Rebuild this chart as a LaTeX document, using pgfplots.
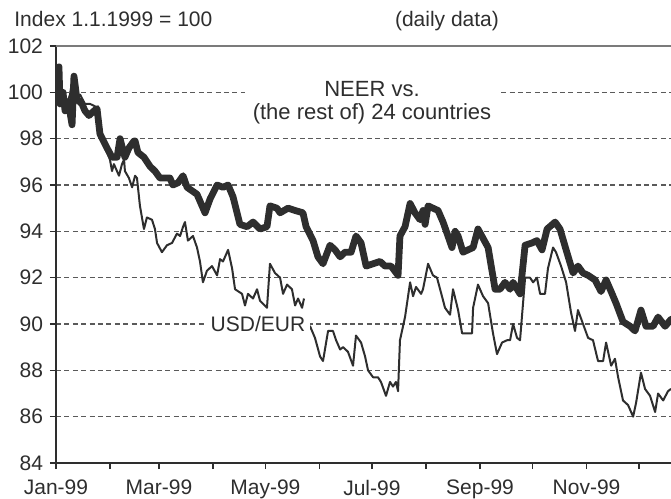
\documentclass[border=0pt]{standalone}
\usepackage{fontspec}
\setmainfont{Liberation Sans}
\usepackage{pgfplots}
\pgfplotsset{compat=1.18}
\definecolor{ink}{HTML}{2E2E2E}
\definecolor{gridc}{HTML}{5A5A5A}

\pgfplotstableread{
d v
0.6 101.0
1.7 101.1
2.3 99.5
4.0 100.0
5.2 99.2
7.0 99.6
9.2 98.6
10.3 100.7
12.0 99.7
14.9 99.5
16.6 99.2
18.9 99.0
21.8 99.2
23.5 99.3
25.2 98.2
29.2 97.6
32.1 97.2
35.0 97.2
36.7 98.0
38.4 97.5
39.5 97.2
41.8 97.6
44.7 97.9
45.3 97.9
47.0 97.4
50.4 97.2
53.9 96.8
56.7 96.6
59.6 96.3
63.6 96.3
65.3 96.3
67.0 96.0
70.0 96.1
72.8 96.4
75.1 95.9
80.8 95.6
85.4 94.8
88.3 95.4
92.3 96.0
95.7 95.9
98.6 96.0
101.4 95.5
105.4 94.3
109.5 94.2
112.9 94.4
116.9 94.1
120.9 94.2
122.6 95.1
126.6 95.0
128.4 94.8
133.0 95.0
137.0 94.9
141.5 94.8
143.3 94.2
147.3 93.6
150.1 92.9
153.0 92.6
157.0 93.4
159.9 93.2
162.8 92.9
165.6 93.1
169.1 93.1
171.9 93.8
174.8 93.5
177.7 92.5
181.7 92.6
185.7 92.7
188.5 92.5
192.0 92.5
196.0 92.1
197.1 93.8
200.0 94.2
202.9 95.2
205.7 94.8
208.6 94.5
210.3 94.9
211.5 94.3
213.2 95.1
216.0 95.0
218.9 94.9
221.8 94.4
224.6 93.8
226.9 93.3
228.7 94.0
230.4 93.8
233.2 93.1
236.1 93.2
239.0 93.3
241.8 94.1
244.7 93.7
247.6 93.3
251.6 91.5
254.4 91.5
257.3 91.8
260.2 91.5
261.9 91.8
265.9 91.3
268.8 93.4
272.8 93.5
275.6 93.6
278.5 93.2
281.4 94.1
286.0 94.4
288.8 94.1
292.3 93.2
296.3 92.2
299.1 92.5
302.0 92.2
304.9 92.1
308.9 91.9
312.3 91.4
315.2 91.9
318.1 91.4
320.9 90.9
324.9 90.1
329.0 89.9
331.8 89.7
335.2 90.6
338.1 89.9
342.1 89.9
345.0 90.3
349.0 89.9
352.4 90.2
}\neer

\pgfplotstableread{
d v
0.6 101.0
2.3 99.7
4.0 100.0
5.7 99.4
8.0 99.9
9.7 100.7
11.5 99.7
13.8 99.9
16.6 99.5
19.5 99.5
22.3 99.4
25.2 98.5
28.1 97.6
30.9 97.1
32.1 96.6
33.2 96.9
36.1 96.4
37.8 96.9
39.0 97.1
39.5 96.6
41.8 96.3
43.6 95.9
45.3 96.4
46.4 96.3
48.1 95.1
50.4 94.1
52.1 94.6
55.0 94.5
56.7 94.1
57.9 93.5
60.7 93.1
63.6 93.4
66.5 93.5
69.3 93.9
71.1 93.8
72.8 94.2
73.9 94.4
75.6 93.6
78.5 93.8
80.8 93.3
82.5 92.7
84.2 91.8
86.5 92.3
89.4 92.5
92.3 92.1
94.0 92.8
95.7 92.7
98.6 93.2
100.9 92.4
102.6 91.5
106.6 91.3
108.3 90.8
110.0 91.3
112.9 91.1
115.2 91.5
116.9 91.0
120.9 90.7
122.6 92.6
125.5 92.2
128.4 92.0
130.1 91.3
132.4 91.7
135.2 91.5
137.0 90.8
138.7 91.1
141.0 90.7
142.1 91.1
143.2 nan
144.4 89.9
145.6 89.9
148.4 89.4
151.3 88.6
153.0 88.4
155.9 89.7
158.7 89.7
160.5 89.3
162.8 88.9
164.5 89.0
167.3 88.8
170.2 88.2
171.9 89.5
174.8 89.2
177.1 88.6
178.8 88.0
181.7 87.7
184.5 87.7
186.2 87.5
189.1 86.9
191.4 87.5
193.1 87.3
194.8 87.5
196.0 87.1
197.1 89.3
200.0 90.3
202.9 91.8
204.6 91.2
206.3 91.6
209.2 91.3
210.3 91.5
213.2 92.6
216.0 92.1
218.3 92.0
220.1 91.5
222.9 90.7
225.8 90.4
227.5 91.5
230.4 90.6
232.7 89.6
238.4 89.6
239.0 90.7
241.8 91.7
244.7 91.2
247.6 90.9
250.4 89.6
252.7 88.7
255.6 89.2
258.5 89.3
260.2 89.3
261.9 90.0
264.2 89.4
265.9 89.3
268.8 92.0
271.6 92.0
273.4 91.8
275.6 92.0
277.4 91.3
280.2 91.3
281.9 92.4
284.8 93.3
286.5 93.1
289.4 92.5
292.3 91.8
295.1 90.5
297.4 89.7
299.1 90.6
302.0 90.0
304.9 89.4
307.7 89.3
310.6 88.4
313.5 88.4
315.2 89.2
318.1 88.2
320.3 88.5
322.1 87.7
324.9 86.7
327.8 86.5
330.7 86.0
332.4 86.6
335.2 87.9
337.5 87.2
340.4 86.9
343.3 86.2
345.0 87.0
347.9 86.7
350.7 87.1
352.4 87.2
}\usd

\begin{document}
\begin{tikzpicture}[font=\fontsize{10.5}{12}\selectfont]
\begin{axis}[
  at={(0,0)}, anchor=south west,
  scale only axis, width=307.5pt, height=208.5pt,
  xmin=0, xmax=352.4, ymin=84, ymax=102,
  axis x line*=bottom, axis y line*=left,
  axis line style={ink, line width=0.8pt, -},
  xtick={0,31,59,90,120,151,181,212,243,273,304,334},
  xticklabels={Jan-99,,Mar-99,,May-99,,Jul-99,,Sep-99,,Nov-99,},
  ytick={84,86,...,100},
  extra y ticks={102},
  extra y tick style={grid style={solid, gridc!80, line width=0.6pt}},
  ymajorgrids,
  grid style={gridc, line width=0.6pt, dash pattern=on 2.5pt off 1.7pt},
  tick align=outside, major tick length=3pt,
  tick style={ink, line width=0.7pt},
  ticklabel style={font=\fontsize{10.5}{12}\selectfont, text=ink},
  xticklabel style={yshift=-2pt},
  /pgf/number format/assume math mode=true,
  unbounded coords=jump,
]
\addplot[ink, line width=3.4pt, line join=round, line cap=round] table[x=d, y=v] {\neer};
\addplot[ink, line width=1.0pt, line join=round] table[x=d, y=v] {\usd};
\end{axis}
\node[anchor=base west, inner sep=0, text=ink] at (-21pt,218pt) {Index 1.1.1999 = 100};
\node[anchor=base, inner sep=0, text=ink] at (195.5pt,218pt) {(daily data)};
\node[fill=white, inner xsep=4pt, inner ysep=1pt, align=center, text=ink,
      font=\fontsize{11}{11.5}\selectfont, anchor=base] at (158pt,171.5pt)
      {NEER vs.\\(the rest of) 24 countries};
\node[fill=white, inner xsep=2.5pt, inner ysep=1pt, text=ink, anchor=base]
      at (101pt,65.5pt) {USD/EUR};
\pgfresetboundingbox
\path (-28pt,-18pt) rectangle (307.5pt,231.5pt);
\end{tikzpicture}
\end{document}
